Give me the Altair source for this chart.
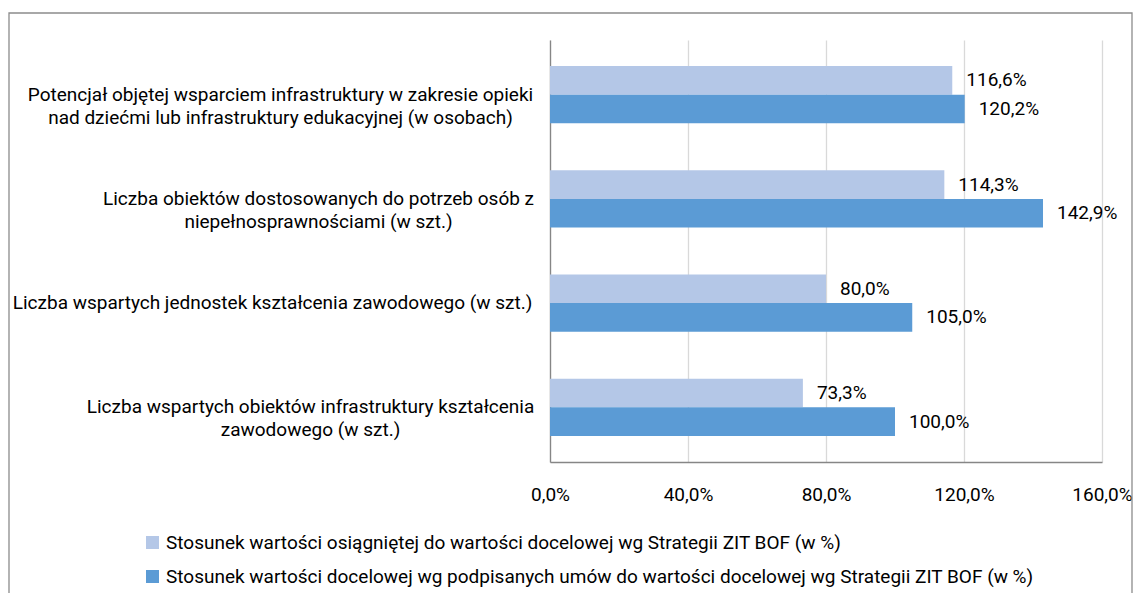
import altair as alt
import pandas as pd

categories = [
    "Potencjał objętej wsparciem infrastruktury w zakresie opieki|nad dziećmi lub infrastruktury edukacyjnej (w osobach)",
    "Liczba obiektów dostosowanych do potrzeb osób z|niepełnosprawnościami (w szt.)",
    "Liczba wspartych jednostek kształcenia zawodowego (w szt.)",
    "Liczba wspartych obiektów infrastruktury kształcenia|zawodowego (w szt.)",
]
series = [
    "Stosunek wartości osiągniętej do wartości docelowej wg Strategii ZIT BOF (w %)",
    "Stosunek wartości docelowej wg podpisanych umów do wartości docelowej wg Strategii ZIT BOF (w %)",
]
achieved = [116.6, 114.3, 80.0, 73.3]
signed = [120.2, 142.9, 105.0, 100.0]
x_ticks = [0, 40, 80, 120, 160]

rows = []
for c, a, s in zip(categories, achieved, signed):
    rows.append({"cat": c, "series": series[0], "value": a})
    rows.append({"cat": c, "series": series[1], "value": s})
df = pd.DataFrame(rows)

FONT = "Roboto"
FS = 19
GRAY = "#868686"

# centred, wrapped category labels: per-label distance from the axis to the text centre
label_gap = [270, 232, 278, 240]
pad_cond = alt.ConditionalAxisNumber(
    condition=[{"test": f"datum.value === {c!r}", "value": g}
               for c, g in zip(categories[:-1], label_gap[:-1])],
    value=label_gap[-1],
)

base = alt.Chart(df).encode(
    y=alt.Y("cat:N", sort=categories,
            scale=alt.Scale(paddingInner=0.45, paddingOuter=0.25),
            axis=alt.Axis(title=None, labelExpr="split(datum.label, '|')",
                          labelFontSize=FS, labelFont=FONT, labelColor="#000000",
                          labelAlign="center", labelPadding=pad_cond, labelLineHeight=23,
                          labelLimit=600, ticks=False, domainColor=GRAY, domainWidth=1.3,
                          grid=False)),
    yOffset=alt.YOffset("series:N", sort=series),
)

bars = base.mark_bar().encode(
    x=alt.X("value:Q", scale=alt.Scale(domain=[0, 160]),
            axis=alt.Axis(title=None, values=x_ticks, labelFlush=False,
                          labelExpr="replace(format(datum.value, '.1f'), '.', ',') + '%'",
                          labelFontSize=FS, labelFont=FONT, labelColor="#000000",
                          labelPadding=23, ticks=False, domainColor=GRAY, domainWidth=1.3,
                          grid=True, gridColor="#d9d9d9", gridWidth=1.3)),
    color=alt.Color("series:N", sort=series,
                    scale=alt.Scale(domain=series, range=["#B4C7E7", "#5B9BD5"]),
                    legend=alt.Legend(title=None, orient="none", legendX=-407, legendY=493,
                                      direction="vertical", symbolType="square",
                                      symbolSize=169, symbolStrokeWidth=0,
                                      labelFontSize=FS, labelFont=FONT, labelColor="#000000",
                                      labelLimit=1000, rowPadding=14, symbolOffset=0,
                                      labelOffset=4)),
)

labels = base.mark_text(align="left", baseline="middle", dx=14, font=FONT,
                        fontSize=FS, color="#000000").encode(
    x="value:Q",
    text=alt.Text("lbl:N"),
).transform_calculate(lbl="replace(format(datum.value, '.1f'), '.', ',') + '%'")

frame = alt.Chart(alt.Data(values=[{}])).mark_rect(
    filled=False, stroke="#8c8c8c", strokeWidth=1.3
).encode(x=alt.value(-541), x2=alt.value(582), y=alt.value(-27), y2=alt.value(600))

chart = alt.layer(frame, bars, labels).properties(
    width=552, height=422,
    padding={"left": 542, "top": 32, "right": 31, "bottom": 131},
    autosize=alt.AutoSizeParams(type="none"),
).configure_view(stroke=None).configure_axis(labelOverlap=False)

chart.save("out.html", embed_options={"renderer": "svg", "actions": False})
